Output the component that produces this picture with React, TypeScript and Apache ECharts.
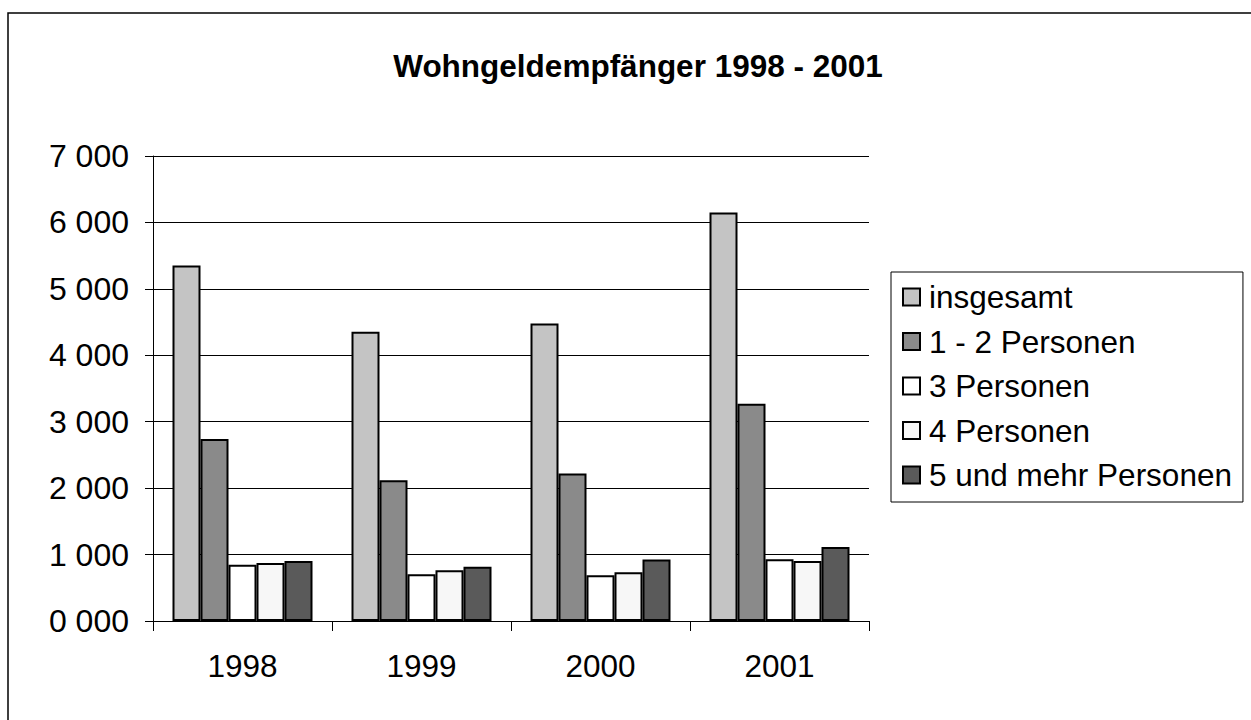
import React, { useEffect, useRef } from "react";
import * as echarts from "echarts";

const years = ["1998", "1999", "2000", "2001"];
const seriesNames = ["insgesamt", "1 - 2 Personen", "3 Personen", "4 Personen", "5 und mehr Personen"];
const insgesamt = [5350, 4355, 4480, 6150];
const p12 = [2740, 2120, 2220, 3270];
const p3 = [845, 705, 690, 930];
const p4 = [875, 765, 735, 905];
const p5 = [905, 815, 925, 1115];
const seriesValues = [insgesamt, p12, p3, p4, p5];
const seriesColors = ["#c4c4c4", "#8a8a8a", "#ffffff", "#f7f7f7", "#5a5a5a"];

const FONT = "'Liberation Sans', Arial, sans-serif";

export default function App() {
  const ref = useRef<HTMLDivElement>(null);
  useEffect(() => {
    document.body.style.margin = "0";
    const chart = echarts.init(ref.current!, null, { renderer: "svg" });
    chart.setOption({
      animation: false,
      backgroundColor: "#ffffff",
      textStyle: { fontFamily: FONT, color: "#000" },
      graphic: [
        {
          type: "rect",
          shape: { x: 8, y: 13, width: 1300, height: 800 },
          style: { fill: "none", stroke: "#000", lineWidth: 1.5 },
          silent: true,
        },
        {
          type: "text",
          x: 638,
          y: 66,
          style: {
            text: "Wohngeldempfänger 1998 - 2001",
            font: `bold 31.5px ${FONT}`,
            fill: "#000",
            align: "center",
            verticalAlign: "middle",
          },
        },
      ],
      legend: {
        orient: "vertical",
        left: 891,
        top: 272,
        padding: [9, 11, 11, 11],
        itemWidth: 17,
        itemHeight: 17,
        itemGap: 12.5,
        icon: "rect",
        borderColor: "#000",
        borderWidth: 1,
        textStyle: { fontSize: 31.5, lineHeight: 30, fontFamily: FONT, color: "#000", padding: [0, 0, 0, 4] },
        data: seriesNames,
      },
      grid: { left: 153, right: 1251 - 869, top: 156, bottom: 720 - 621, containLabel: false },
      xAxis: {
        type: "category",
        data: years,
        axisLine: { lineStyle: { color: "#000", width: 1 } },
        axisTick: { show: true, length: 10, lineStyle: { color: "#000" } },
        axisLabel: { fontSize: 31.5, color: "#000", fontFamily: FONT, margin: 29 },
      },
      yAxis: {
        type: "value",
        min: 0,
        max: 7000,
        interval: 1000,
        axisLine: { show: true, lineStyle: { color: "#000", width: 1 } },
        axisTick: { show: true, length: 8, lineStyle: { color: "#000" } },
        splitLine: { show: true, lineStyle: { color: "#000", width: 1 } },
        axisLabel: {
          fontSize: 32,
          color: "#000",
          fontFamily: FONT,
          margin: 24,
          formatter: (v: number) => `${Math.floor(v / 1000)} 000`,
        },
      },
      series: seriesNames.map((name, i) => ({
        name,
        type: "bar",
        data: seriesValues[i],
        barWidth: 28,
        barGap: "0%",
        itemStyle: { color: seriesColors[i], borderColor: "#000", borderWidth: 2 },
      })),
    });
    return () => chart.dispose();
  }, []);
  return <div ref={ref} style={{ width: 1251, height: 720 }} />;
}
